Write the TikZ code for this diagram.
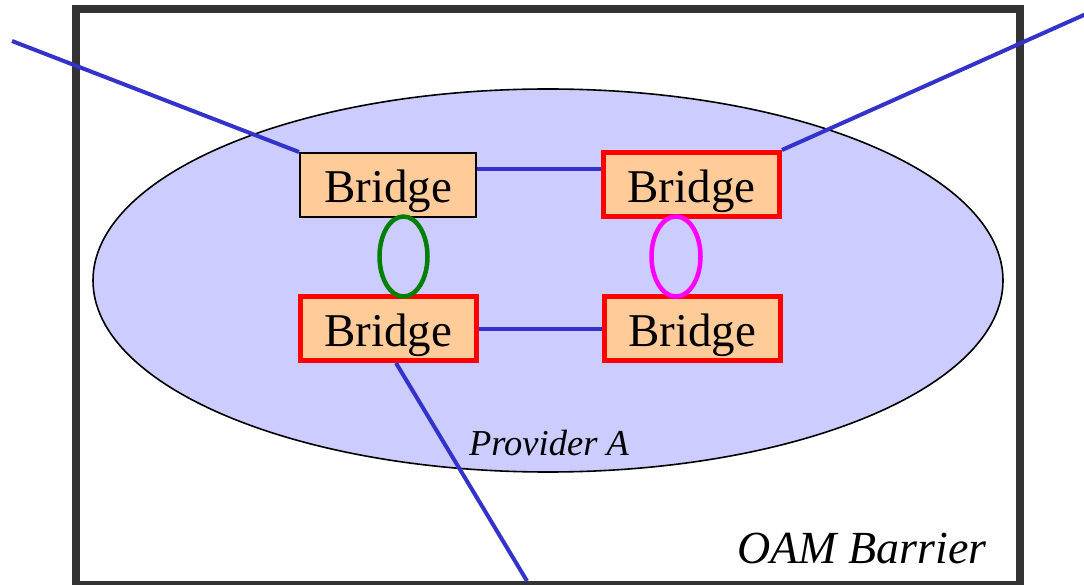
\documentclass[tikz,border=0pt]{standalone}
\usepackage{fontspec}
\setmainfont{Liberation Serif}
\begin{document}
\begin{tikzpicture}[x=1pt,y=-1pt,
  bridgebox/.style={draw=black, line width=2pt, fill=bridgefill,
    minimum width=176pt, minimum height=64pt, inner sep=0pt,
    text height=40pt, text depth=4pt,
    font=\fontsize{47}{50}\selectfont},
  redbox/.style={bridgebox, draw=boxred, line width=5pt},
  link/.style={draw=linkblue, line width=4pt},
  ring/.style={line width=4.5pt}]
\definecolor{bridgefill}{HTML}{FFCC99}
\definecolor{cloud}{HTML}{CCCCFF}
\definecolor{linkblue}{HTML}{3333CC}
\definecolor{barrier}{HTML}{333333}
\definecolor{ringgreen}{HTML}{008000}
\definecolor{ringmagenta}{HTML}{FF00FF}
\definecolor{boxred}{HTML}{FF0000}
\useasboundingbox (0,0) rectangle (1084,585);
\fill[white] (0,0) rectangle (1084,585);

% OAM barrier frame
\draw[barrier, line width=8pt] (76,9) rectangle (1020,585);

% provider cloud
\draw[fill=cloud, line width=1.6pt] (548,280.5) ellipse [x radius=455, y radius=191.5];
\node[anchor=base, inner sep=0pt, font=\fontsize{36.5}{40}\selectfont\itshape]
  (prov) at (549,455) {Provider A};
\node[anchor=base east, inner sep=0pt, font=\fontsize{46}{50}\selectfont\itshape]
  (oam) at (987,563) {OAM Barrier};

% bridges
\node[bridgebox] (tl) at (388,185) {Bridge};
\node[redbox] (tr) at (691.5,184.5) {Bridge};
\node[redbox] (bl) at (388,328.5) {Bridge};
\node[redbox] (br) at (692,328.5) {Bridge};

% external and internal links
\coordinate (w) at (12,41);
\coordinate (e) at (1086,14);
\coordinate (s) at (527,581);
\draw[link] (w) -- (tl.north west);
\draw[link] (tr.north east) -- (e);
\draw[link] ([yshift=16pt]tl.east) -- ([yshift=16pt]tl.east -| tr.west);
\draw[link] (bl.east) -- (bl.east -| br.west);
\draw[link] ([xshift=8pt]bl.south) -- (s);

% aggregation rings
\draw[ring, ringgreen] (403.5,256.5) ellipse [x radius=24, y radius=40];
\draw[ring, ringmagenta] (676,256.5) ellipse [x radius=24.5, y radius=40];
\end{tikzpicture}
\end{document}
